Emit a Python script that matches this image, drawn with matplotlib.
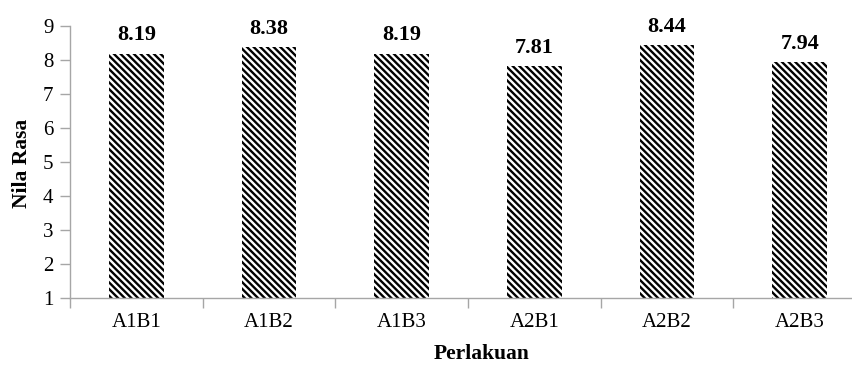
import matplotlib
matplotlib.use("Agg")
import matplotlib.pyplot as plt
import numpy as np

categories = ["A1B1", "A1B2", "A1B3", "A2B1", "A2B2", "A2B3"]
values = [8.19, 8.38, 8.19, 7.81, 8.44, 7.94]
y_ticks = [1, 2, 3, 4, 5, 6, 7, 8, 9]

plt.rcParams["font.family"] = ["Liberation Serif", "DejaVu Serif"]
plt.rcParams["hatch.linewidth"] = 1.7
plt.rcParams["hatch.color"] = "black"

fig = plt.figure(figsize=(8.53, 3.65), dpi=100)
ax = fig.add_axes([70 / 853, 67 / 365, 796 / 853, 272 / 365])

x = np.arange(len(categories))
base = 1
ax.bar(x, np.array(values) - base, bottom=base, width=0.41,
       color="white", edgecolor="black", linewidth=0, hatch="\\" * 5)

for xi, v in zip(x, values):
    ax.annotate(f"{v:.2f}", (xi, v), xytext=(0, 6), textcoords="offset points",
                ha="center", va="bottom", fontsize=16, fontweight="bold")

ax.set_xlim(-0.5, len(categories) - 0.5)
ax.set_ylim(1, 9)
ax.set_yticks(y_ticks)
ax.set_yticklabels([str(t) for t in y_ticks], fontsize=15)
ax.set_xticks(x)
ax.set_xticklabels(categories, fontsize=15)
ax.set_xticks(np.arange(-0.5, len(categories)), minor=True)

ax.tick_params(axis="x", which="major", length=0, pad=11)
ax.tick_params(axis="x", which="minor", length=7, width=1, color="#a6a6a6")
ax.tick_params(axis="y", which="major", length=7, width=1, color="#a6a6a6", pad=5)

for side in ("top", "right"):
    ax.spines[side].set_visible(False)
for side in ("left", "bottom"):
    ax.spines[side].set_color("#a6a6a6")
    ax.spines[side].set_linewidth(1)

fig.text(482 / 853, 1 - 354 / 365, "Perlakuan", ha="center", va="center",
         fontsize=15.5, fontweight="bold")
fig.text(22 / 853, 1 - 163 / 365, "Nila Rasa", ha="center", va="center",
         rotation=90, fontsize=15.5, fontweight="bold")

fig.savefig("out.png", dpi=100)
